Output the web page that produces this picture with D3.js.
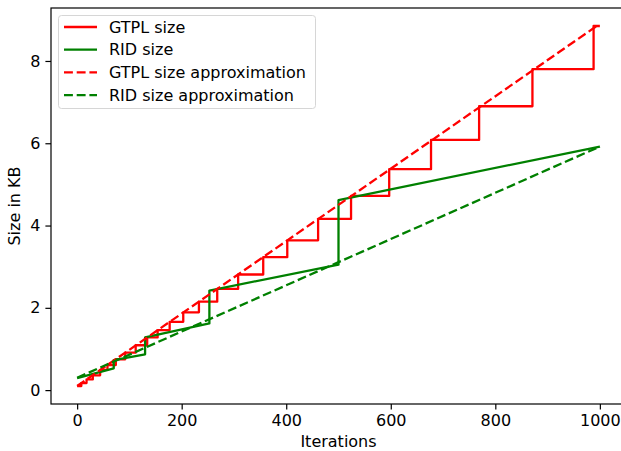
<!doctype html>
<html lang="en">
<head>
<meta charset="UTF-8">
<title>Size in KB</title>
<style type="text/css">
body {
  margin: 0;
  padding: 0;
  background: #fff;
}
svg text {
  font-family: 'DejaVu Sans', sans-serif;
  fill: #000;
}
</style>
<script src="https://cdn.jsdelivr.net/npm/d3@7/dist/d3.min.js"></script>
</head>
<body>
<div id="chart"></div>
<script type="text/javascript">

// GTPL size: step points (value holds until the next x)
var gtplX = [0, 8, 18, 30, 44, 58, 74, 92, 112, 134, 154, 177, 203, 233, 268, 308, 356, 402, 461, 524, 597, 677, 769, 871, 988, 1000];
var gtplY = [0.10, 0.17, 0.26, 0.36, 0.49, 0.61, 0.75, 0.91, 1.09, 1.28, 1.46, 1.66, 1.89, 2.15, 2.46, 2.81, 3.23, 3.64, 4.16, 4.72, 5.37, 6.08, 6.90, 7.80, 8.85, 8.85];

// RID size: sloped segments with jumps
var ridX = [0, 70, 70, 130, 130, 253, 253, 500, 500, 1000];
var ridY = [0.29, 0.53, 0.73, 0.87, 1.28, 1.62, 2.42, 3.05, 4.62, 5.92];

var gtplApproxX = [0, 994];
var gtplApproxY = [0.10, 8.85];
var ridApproxX = [0, 1000];
var ridApproxY = [0.30, 5.92];

var xTicks = [0, 200, 400, 600, 800, 1000];
var yTicks = [0, 2, 4, 6, 8];

var legendLabels = ['GTPL size', 'RID size', 'GTPL size approximation', 'RID size approximation'];

function zipPoints(xs, ys) {
  return xs.map(function(x, i) { return [x, ys[i]]; });
}

var W = 621, H = 451;
var mLeft = 51, mRight = 626, mTop = 8, mBottom = 404;
var fontSize = 16;
var lw = 2.3;
var dash = '8.9,3.8';

var svg = d3.select('#chart').append('svg')
  .attr('width', W)
  .attr('height', H);

svg.append('rect').attr('width', W).attr('height', H).attr('fill', '#fff');

var x = d3.scaleLinear().domain([-50, 1050]).range([mLeft, mRight]);
var y = d3.scaleLinear().domain([-0.3375, 9.2875]).range([mBottom, mTop]);

var line = d3.line()
  .x(function(d) { return x(d[0]); })
  .y(function(d) { return y(d[1]); });

var series = [
  { pts: zipPoints(gtplX, gtplY), color: 'red', dash: null, curve: d3.curveStepAfter },
  { pts: zipPoints(ridX, ridY), color: 'green', dash: null, curve: d3.curveLinear },
  { pts: zipPoints(gtplApproxX, gtplApproxY), color: 'red', dash: dash, curve: d3.curveLinear },
  { pts: zipPoints(ridApproxX, ridApproxY), color: 'green', dash: dash, curve: d3.curveLinear }
];

var plot = svg.append('g');
series.forEach(function(s) {
  plot.append('path')
    .attr('d', line.curve(s.curve)(s.pts))
    .attr('fill', 'none')
    .attr('stroke', s.color)
    .attr('stroke-width', lw)
    .attr('stroke-linejoin', 'round')
    .attr('stroke-dasharray', s.dash);
});

// axes
var xAxis = d3.axisBottom(x).tickValues(xTicks).tickFormat(d3.format('d'))
  .tickSize(5.6).tickPadding(5).tickSizeOuter(0);
var yAxis = d3.axisLeft(y).tickValues(yTicks).tickFormat(d3.format('d'))
  .tickSize(5.6).tickPadding(5).tickSizeOuter(0);

var gx = svg.append('g').attr('transform', 'translate(0,' + mBottom + ')').call(xAxis);
var gy = svg.append('g').attr('transform', 'translate(' + mLeft + ',0)').call(yAxis);

[gx, gy].forEach(function(g) {
  g.select('.domain').remove();
  g.selectAll('.tick line').attr('stroke', '#000').attr('stroke-width', 1.2);
  g.selectAll('.tick text')
    .style('font-family', "'DejaVu Sans', sans-serif")
    .style('font-size', fontSize + 'px')
    .attr('fill', '#222');
});

// spines
svg.append('rect')
  .attr('x', mLeft)
  .attr('y', mTop)
  .attr('width', mRight - mLeft)
  .attr('height', mBottom - mTop)
  .attr('fill', 'none')
  .attr('stroke', '#000')
  .attr('stroke-width', 1.2);

// axis labels
svg.append('text')
  .attr('x', x(500))
  .attr('y', 447)
  .attr('text-anchor', 'middle')
  .style('font-size', fontSize + 'px')
  .attr('fill', '#222')
  .text('Iterations');

svg.append('text')
  .attr('transform', 'translate(20,' + ((mTop + mBottom) / 2) + ') rotate(-90)')
  .attr('text-anchor', 'middle')
  .style('font-size', fontSize + 'px')
  .attr('fill', '#222')
  .text('Size in KB');

// legend
var legend = svg.append('g');
legend.append('rect')
  .attr('x', 58.5)
  .attr('y', 15.5)
  .attr('width', 257)
  .attr('height', 93)
  .attr('rx', 3)
  .attr('fill', '#fff')
  .attr('fill-opacity', 0.8)
  .attr('stroke', '#d6d6d6')
  .attr('stroke-width', 1);

series.forEach(function(s, i) {
  var cy = 27 + i * 22.7;
  legend.append('line')
    .attr('x1', 64)
    .attr('x2', 97)
    .attr('y1', cy)
    .attr('y2', cy)
    .attr('stroke', s.color)
    .attr('stroke-width', lw)
    .attr('stroke-dasharray', s.dash);
  legend.append('text')
    .attr('x', 109)
    .attr('y', cy)
    .attr('dy', '0.35em')
    .style('font-size', fontSize + 'px')
    .attr('fill', '#222')
    .text(legendLabels[i]);
});

</script>
</body>
</html>
